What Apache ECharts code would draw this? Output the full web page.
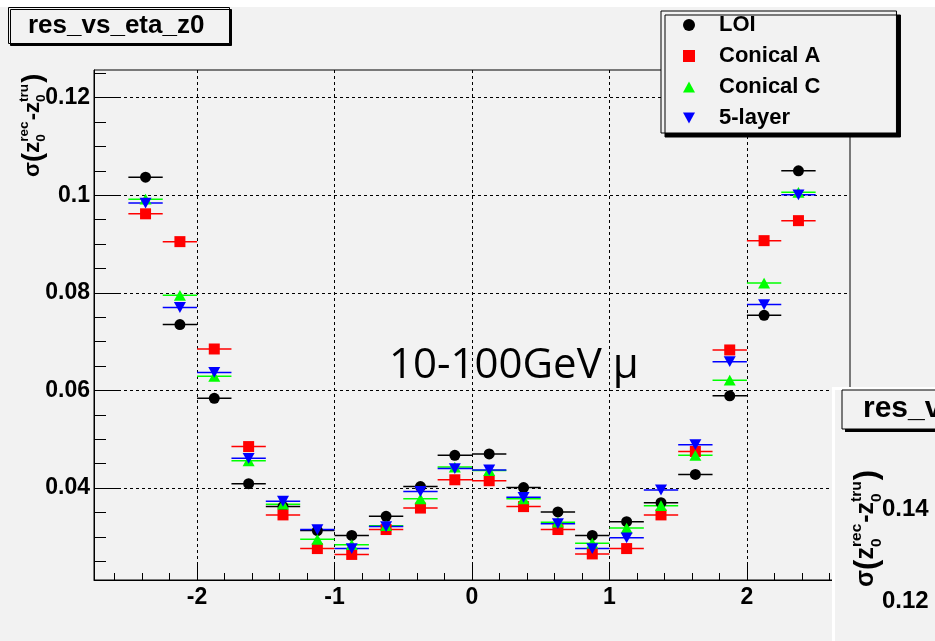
<!DOCTYPE html>
<html>
<head>
<meta charset="utf-8">
<script src="https://cdn.jsdelivr.net/npm/echarts@6/dist/echarts.min.js"></script>
<style>
  html, body { margin: 0; padding: 0; background: #f2f2f2; }
  #chart { width: 935px; height: 641px; }
</style>
</head>
<body>
<div id="chart"></div>
<script>
// z0 resolution versus pseudorapidity, 10-100 GeV muons
const etaCenters = [-2.375, -2.125, -1.875, -1.625, -1.375, -1.125, -0.875, -0.625, -0.375, -0.125,
                     0.125,  0.375,  0.625,  0.875,  1.125,  1.375,  1.625,  1.875,  2.125,  2.375];
const binHalfWidth = 0.125;

const resLOI      = [0.1037, 0.0735, 0.0584, 0.0409, 0.0362, 0.0313, 0.0303, 0.0342, 0.0403, 0.0467,
                     0.0470, 0.0401, 0.0351, 0.0303, 0.0331, 0.0370, 0.0428, 0.0589, 0.0754, 0.1050];
const resConicalA = [0.0962, 0.0905, 0.0685, 0.0485, 0.0345, 0.0276, 0.0264, 0.0315, 0.0359, 0.0417,
                     0.0415, 0.0362, 0.0315, 0.0265, 0.0276, 0.0345, 0.0475, 0.0683, 0.0907, 0.0948];
const resConicalC = [0.0992, 0.0795, 0.0629, 0.0456, 0.0367, 0.0295, 0.0284, 0.0323, 0.0378, 0.0443,
                     0.0436, 0.0378, 0.0330, 0.0287, 0.0318, 0.0364, 0.0467, 0.0621, 0.0820, 0.1006];
const res5Layer   = [0.0984, 0.0770, 0.0637, 0.0461, 0.0373, 0.0315, 0.0276, 0.0321, 0.0393, 0.0440,
                     0.0437, 0.0381, 0.0327, 0.0276, 0.0298, 0.0396, 0.0489, 0.0659, 0.0776, 0.1001];

const seriesNames = ['LOI', 'Conical A', 'Conical C', '5-layer'];

const xMajorTicks = [-2, -1, 0, 1, 2];
const xMinorTicks = [-2.6, -2.4, -2.2, -1.8, -1.6, -1.4, -1.2, -0.8, -0.6, -0.4, -0.2,
                      0.2, 0.4, 0.6, 0.8, 1.2, 1.4, 1.6, 1.8, 2.2, 2.4, 2.6];
const yMajorTicks = [0.04, 0.06, 0.08, 0.1, 0.12];
const yMinorTicks = [0.025, 0.03, 0.035, 0.045, 0.05, 0.055, 0.065, 0.07, 0.075,
                     0.085, 0.09, 0.095, 0.105, 0.11, 0.115, 0.125];
const insetTickLabels = ['0.14', '0.12'];

const histTitle = 'res_vs_eta_z0';
const sampleNote = '10-100GeV \u03bc';

// ---------------------------------------------------------------------------
const seriesValues = [resLOI, resConicalA, resConicalC, res5Layer];
const markerStyles = [
  { color: '#000000', symbol: 'circle', size: 11 },
  { color: '#ff0000', symbol: 'rect', size: 11 },
  { color: '#00ff00', symbol: 'path://M5,0L10,9L0,9Z', size: 12 },
  { color: '#0000ff', symbol: 'path://M0,0L10,0L5,9Z', size: 12 }
];

const FONT = '"Liberation Sans", Arial, sans-serif';
const X_MIN = -2.75, X_MAX = 2.75;
const Y_MIN = 0.02116, Y_MAX = 0.12567;

const fmtNum = v => String(Math.round(v * 10000) / 10000);

const series = [];
seriesValues.forEach((vals, i) => {
  const st = markerStyles[i];
  const pts = etaCenters.map((x, k) => [x, vals[k]]);
  series.push({
    type: 'custom',
    xAxisIndex: 0, yAxisIndex: 0,
    data: pts,
    encode: { x: 0, y: 1 },
    silent: true,
    renderItem: (params, api) => {
      const x = api.value(0), y = api.value(1);
      const a = api.coord([x - binHalfWidth, y]);
      const b = api.coord([x + binHalfWidth, y]);
      return {
        type: 'line',
        shape: { x1: a[0], y1: a[1], x2: b[0], y2: b[1] },
        style: { stroke: st.color, lineWidth: 1.5 }
      };
    }
  });
  series.push({
    name: seriesNames[i],
    type: 'scatter',
    xAxisIndex: 0, yAxisIndex: 0,
    data: pts,
    symbol: st.symbol,
    symbolSize: st.size,
    symbolKeepAspect: true,
    itemStyle: { color: st.color, opacity: 1 },
    emphasis: { disabled: true }
  });
});

// text measurement for the stacked sub/superscript axis title
const measureCtx = document.createElement('canvas').getContext('2d');
function textWidth(str, size) {
  measureCtx.font = 'bold ' + size + 'px ' + FONT;
  return measureCtx.measureText(str).width;
}
// sigma(z0^rec - z0^tru), written bottom-to-top with its baseline at (ox, oy)
function sigmaTitle(ox, oy, s, z) {
  const small = s * 0.62;
  const kids = [];
  let pos = 0;
  const put = (str, size, shift) => {
    kids.push({
      type: 'text', x: pos, y: shift - 0.34 * size, z: z,
      style: { text: str, fontFamily: FONT, fontWeight: 'bold', fontSize: size,
               fill: '#000', align: 'left', verticalAlign: 'middle' }
    });
  };
  const word = (str, size, shift) => { put(str, size, shift || 0); pos += textWidth(str, size); };
  const stack = (sup, sub) => {
    put(sup, small, -0.52 * s);
    put(sub, small, 0.28 * s);
    pos += Math.max(textWidth(sup, small), textWidth(sub, small)) + 1;
  };
  word('\u03c3', s);
  word('(', s * 1.25, 0.12 * s);
  word('z', s);
  stack('rec', '0');
  word('-', s);
  word('z', s);
  stack('tru', '0');
  word(')', s * 1.25, 0.12 * s);
  return { type: 'group', x: ox, y: oy, rotation: Math.PI / 2, z: z, children: kids };
}

const axisBase = {
  type: 'value',
  min: X_MIN, max: X_MAX,
  position: 'bottom'
};

const option = {
  backgroundColor: '#f2f2f2',
  animation: false,
  title: {
    text: histTitle,
    left: 8, top: 8,
    padding: [5, 25, 5, 20],
    backgroundColor: '#f2f2f2',
    borderColor: '#000', borderWidth: 1,
    shadowColor: '#000', shadowBlur: 0, shadowOffsetX: 2, shadowOffsetY: 2,
    textStyle: { fontFamily: FONT, fontWeight: 'bold', fontSize: 26, color: '#000', lineHeight: 25 }
  },
  legend: {
    data: seriesNames,
    orient: 'vertical',
    left: 661, top: 11,
    padding: [3, 76, 4, 22],
    itemWidth: 12, itemHeight: 12, itemGap: 9,
    backgroundColor: '#f2f2f2',
    borderColor: '#000', borderWidth: 1, borderRadius: 0,
    shadowColor: '#000', shadowBlur: 0, shadowOffsetX: 4, shadowOffsetY: 4,
    selectedMode: false,
    textStyle: { fontFamily: FONT, fontWeight: 'bold', fontSize: 22, color: '#000',
                 lineHeight: 22, padding: [0, 0, 0, 19] }
  },
  grid: {
    left: 94, right: 85, top: 70, bottom: 61,
    show: true, borderColor: '#000', borderWidth: 1, backgroundColor: 'transparent',
    containLabel: false, outerBoundsMode: 'none'
  },
  xAxis: [
    Object.assign({}, axisBase, {
      axisLine: { show: true, onZero: false, lineStyle: { color: '#000', width: 1 } },
      axisTick: { show: true, inside: true, length: 15, customValues: xMajorTicks,
                  lineStyle: { color: '#000', width: 1 } },
      axisLabel: { show: true, customValues: xMajorTicks, formatter: fmtNum, margin: 6,
                   fontFamily: FONT, fontWeight: 'bold', fontSize: 23, color: '#000' },
      splitLine: { show: true, lineStyle: { color: '#000', width: 1, type: [3, 3] } }
    }),
    Object.assign({}, axisBase, {
      axisLine: { show: false, onZero: false },
      axisTick: { show: true, inside: true, length: 7, customValues: xMinorTicks,
                  lineStyle: { color: '#000', width: 1 } },
      axisLabel: { show: false },
      splitLine: { show: false }
    })
  ],
  yAxis: [
    {
      type: 'value', min: Y_MIN, max: Y_MAX, position: 'left',
      axisLine: { show: true, onZero: false, lineStyle: { color: '#000', width: 1 } },
      axisTick: { show: true, inside: true, length: 24, customValues: yMajorTicks,
                  lineStyle: { color: '#000', width: 1 } },
      axisLabel: { show: true, customValues: yMajorTicks, formatter: fmtNum, margin: 4,
                   fontFamily: FONT, fontWeight: 'bold', fontSize: 23, color: '#000' },
      splitLine: { show: true, lineStyle: { color: '#000', width: 1, type: [3, 3] } }
    },
    {
      type: 'value', min: Y_MIN, max: Y_MAX, position: 'left',
      axisLine: { show: false, onZero: false },
      axisTick: { show: true, inside: true, length: 12, customValues: yMinorTicks,
                  lineStyle: { color: '#000', width: 1 } },
      axisLabel: { show: false },
      splitLine: { show: false }
    }
  ],
  series: series,
  graphic: [
    // thin white strip along the top edge
    { type: 'rect', z: 0, shape: { x: 0, y: 0, width: 935, height: 7 }, style: { fill: '#ffffff' } },
    // y-axis title
    sigmaTitle(40, 177, 22, 20),
    // sample annotation
    { type: 'text', z: 20, x: 389, y: 366,
      style: { text: sampleNote, fontFamily: '"Open Sans", "Noto Sans", sans-serif', fontSize: 42,
               fill: '#000', align: 'left', verticalAlign: 'middle' } },
    // neighbouring canvas peeking in at the lower right
    { type: 'rect', z: 50, shape: { x: 832, y: 387, width: 103, height: 254 }, style: { fill: '#ffffff' } },
    { type: 'rect', z: 51, shape: { x: 835, y: 390, width: 100, height: 251 }, style: { fill: '#f2f2f2' } },
    { type: 'rect', z: 52, shape: { x: 845, y: 393, width: 100, height: 39 }, style: { fill: '#000' } },
    { type: 'rect', z: 53, shape: { x: 842, y: 390, width: 100, height: 39 },
      style: { fill: '#f2f2f2', stroke: '#000', lineWidth: 1 } },
    { type: 'text', z: 54, x: 863, y: 409,
      style: { text: histTitle, fontFamily: FONT, fontWeight: 'bold', fontSize: 30,
               fill: '#000', align: 'left', verticalAlign: 'middle' } },
    sigmaTitle(875, 587, 25, 54),
    { type: 'text', z: 54, x: 882, y: 509,
      style: { text: insetTickLabels[0], fontFamily: FONT, fontWeight: 'bold', fontSize: 24,
               fill: '#000', align: 'left', verticalAlign: 'middle' } },
    { type: 'text', z: 54, x: 882, y: 601,
      style: { text: insetTickLabels[1], fontFamily: FONT, fontWeight: 'bold', fontSize: 24,
               fill: '#000', align: 'left', verticalAlign: 'middle' } }
  ]
};

const chart = echarts.init(document.getElementById('chart'), null, { renderer: 'canvas' });
chart.setOption(option);
</script>
</body>
</html>
